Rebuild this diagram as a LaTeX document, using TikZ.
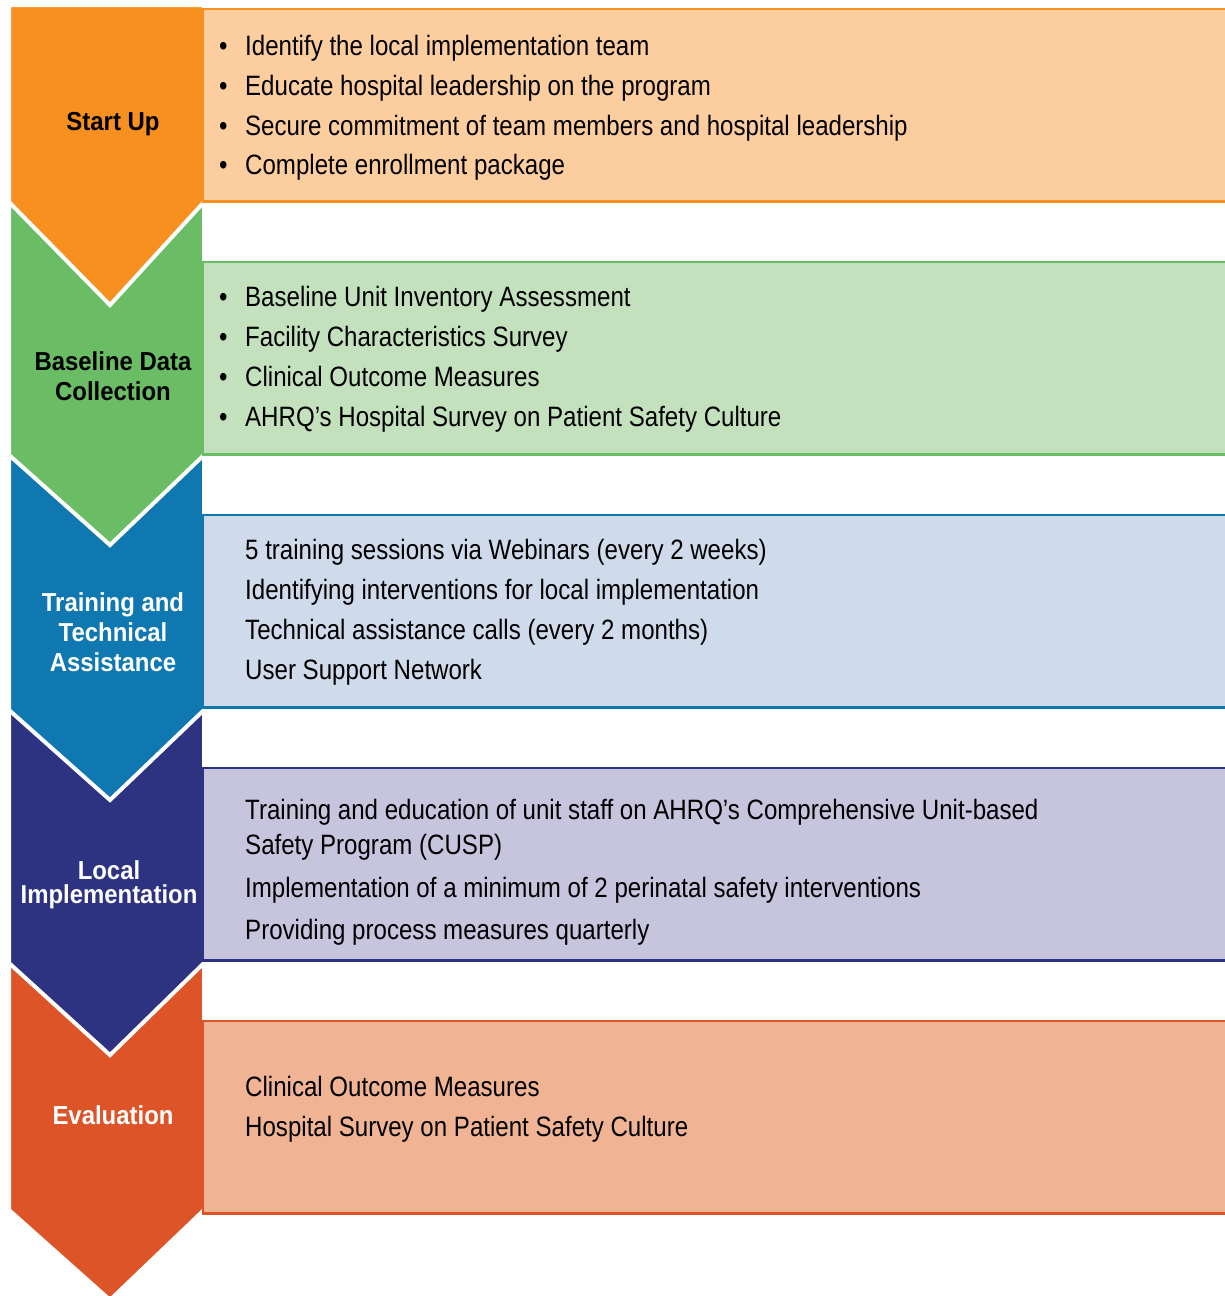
\documentclass[tikz,border=0pt]{standalone}
\usepackage{fontspec}
\setmainfont{Liberation Sans}
\newfontfamily\narrowfont{Liberation Sans}[FakeStretch=0.86]
\newfontfamily\stagefont{Liberation Sans}[FakeStretch=0.92]
\usetikzlibrary{calc}

\definecolor{startarrow}{HTML}{F7901E}
\definecolor{startbox}{HTML}{FCCD9F}
\definecolor{basearrow}{HTML}{6ABD64}
\definecolor{basebox}{HTML}{C4E1BD}
\definecolor{trainarrow}{HTML}{1078B0}
\definecolor{trainbox}{HTML}{CFDBEB}
\definecolor{localarrow}{HTML}{2D3381}
\definecolor{localbox}{HTML}{C7C4DE}
\definecolor{evalarrow}{HTML}{DC5428}
\definecolor{evalbox}{HTML}{F0B494}

\newcommand{\bul}{\makebox[26pt][l]{\textbullet}}

\begin{document}
\begin{tikzpicture}[x=1pt,y=-1pt,
	item/.style={anchor=base west, inner sep=0pt, font=\narrowfont\fontsize{28}{34}\selectfont},
	stage/.style={align=center, inner sep=0pt, font=\stagefont\bfseries\fontsize{26}{30}\selectfont}]
	\pgfmathsetmacro{\pitch}{253}		%vertical distance between boxes
	\pgfmathsetmacro{\xa}{9}			%left edge of arrows (white border eats 2)
	\pgfmathsetmacro{\xb}{204}			%right edge of arrows
	\pgfmathsetmacro{\xtip}{110}		%x of the arrow tips

	\useasboundingbox (0,0) rectangle (1224,1296);

	%arrows, last one first so that each tip lies over the next arrow
	%top / lower end of sides / tip
	\foreach \i/\ytop/\ybot/\ytip/\col in {4/913/1210/1300/evalarrow,3/660/963/1055/localarrow,2/405/710/800/trainarrow,1/152/455/545/basearrow,0/5/202/305/startarrow}{
		\filldraw[fill=\col, draw=white, line width=4pt]
			(\xa,\ytop) -- (\xb,\ytop) -- (\xb,\ybot) -- (\xtip,\ytip) -- (\xa,\ybot) -- cycle;
	}

	%boxes
	\filldraw[fill=startbox, draw=startarrow, line width=2.5pt] (203,9) rectangle (1230,201.5);
	\filldraw[fill=basebox, draw=basearrow, line width=2.5pt] (203,9+\pitch) rectangle (1230,201.5+\pitch);
	\filldraw[fill=trainbox, draw=trainarrow, line width=2.5pt] (203,9+2*\pitch) rectangle (1230,201.5+2*\pitch);
	\filldraw[fill=localbox, draw=localarrow, line width=2.5pt] (203,9+3*\pitch) rectangle (1230,201.5+3*\pitch);
	\filldraw[fill=evalbox, draw=evalarrow, line width=2.5pt] (203,9+4*\pitch) rectangle (1230,201.5+4*\pitch);

	%stage names
	\node[stage] (startup) at (113,124) {Start Up};
	\node[stage] (baseline) at (113,376) {Baseline Data\\Collection};
	\node[stage, white] (training) at (113,632) {Training and\\Technical\\Assistance};
	\node[stage, white] (local) at (109,885) {Local\\[-6pt]Implementation};
	\node[stage, white] (evaluation) at (113,1115) {Evaluation};

	%start up
	\node[item] (up1) at (219,55) {\bul Identify the local implementation team};
	\node[item] (up2) at (219,95) {\bul Educate hospital leadership on the program};
	\node[item] (up3) at (219,135) {\bul Secure commitment of team members and hospital leadership};
	\node[item] (up4) at (219,174) {\bul Complete enrollment package};

	%baseline data collection
	\node[item] (base1) at (219,306) {\bul Baseline Unit Inventory Assessment};
	\node[item] (base2) at (219,346) {\bul Facility Characteristics Survey};
	\node[item] (base3) at (219,386) {\bul Clinical Outcome Measures};
	\node[item] (base4) at (219,426) {\bul AHRQ’s Hospital Survey on Patient Safety Culture};

	%training and technical assistance
	\node[item] (train1) at (245,559) {5 training sessions via Webinars (every 2 weeks)};
	\node[item] (train2) at (245,599) {Identifying interventions for local implementation};
	\node[item] (train3) at (245,639) {Technical assistance calls (every 2 months)};
	\node[item] (train4) at (245,679) {User Support Network};

	%local implementation
	\node[item] (local1) at (245,819) {Training and education of unit staff on AHRQ’s Comprehensive Unit-based};
	\node[item] (local2) at (245,854) {Safety Program (CUSP)};
	\node[item] (local3) at (245,897) {Implementation of a minimum of 2 perinatal safety interventions};
	\node[item] (local4) at (245,939) {Providing process measures quarterly};

	%evaluation
	\node[item] (eval1) at (245,1096) {Clinical Outcome Measures};
	\node[item] (eval2) at (245,1136) {Hospital Survey on Patient Safety Culture};
\end{tikzpicture}
\end{document}
